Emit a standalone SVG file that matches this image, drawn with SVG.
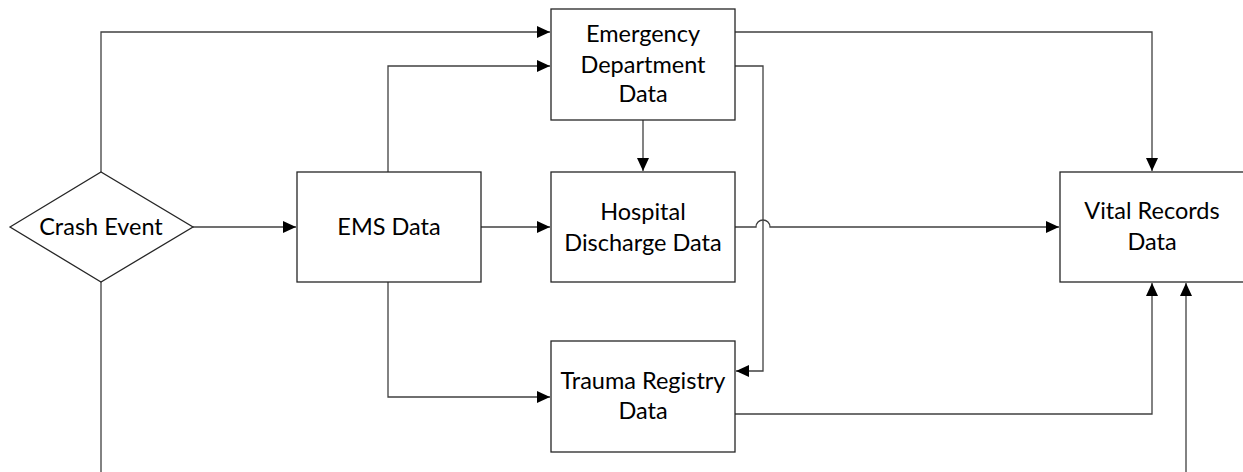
<svg xmlns="http://www.w3.org/2000/svg" width="1243" height="472" viewBox="0 0 1243 472">
<style>
.box{fill:#fff;stroke:#262626;stroke-width:1.3}
.lbl{font-family:Lato,"Open Sans",sans-serif;font-size:23.5px;fill:#000;text-anchor:middle}
.c{fill:none;stroke:#404040;stroke-width:1.3}
</style>
<defs>
<marker id="ah" viewBox="0 0 13 12" refX="13" refY="6" markerWidth="13" markerHeight="12" markerUnits="userSpaceOnUse" orient="auto">
<path d="M0,0 L13,6 L0,12 z" fill="#000"/>
</marker>
</defs>
<rect width="1243" height="472" fill="#fff"/>
<g id="connectors">
<path class="c" d="M101,172 V32 H550" marker-end="url(#ah)"/>
<path class="c" d="M388,172 V66 H550" marker-end="url(#ah)"/>
<path class="c" d="M193,227 H296" marker-end="url(#ah)"/>
<path class="c" d="M481,227 H550" marker-end="url(#ah)"/>
<path class="c" d="M643,120 V171" marker-end="url(#ah)"/>
<path class="c" d="M735,32 H1152 V171" marker-end="url(#ah)"/>
<path class="c" d="M735,66 H763 V371 H736" marker-end="url(#ah)"/>
<path class="c" d="M735,227 H756 A7,7 0 0 1 770,227 H1059" marker-end="url(#ah)"/>
<path class="c" d="M388,282 V397 H550" marker-end="url(#ah)"/>
<path class="c" d="M735,414 H1152 V283" marker-end="url(#ah)"/>
<path class="c" d="M101,282 V490 H1186 V283" marker-end="url(#ah)"/>
</g>
<g id="crash">
<polygon class="box" points="10,227 101,172 193,227 101,282"/>
<text class="lbl" x="101" y="235">Crash Event</text>
</g>
<g id="ems">
<rect class="box" x="297" y="172" width="184" height="110"/>
<text class="lbl" x="389" y="235">EMS Data</text>
</g>
<g id="ed">
<rect class="box" x="551" y="9" width="184" height="111"/>
<text class="lbl" x="643" y="42">Emergency</text>
<text class="lbl" x="643" y="73">Department</text>
<text class="lbl" x="643" y="102">Data</text>
</g>
<g id="hospital">
<rect class="box" x="551" y="172" width="184" height="110"/>
<text class="lbl" x="643" y="220">Hospital</text>
<text class="lbl" x="643" y="251">Discharge Data</text>
</g>
<g id="trauma">
<rect class="box" x="551" y="341" width="184" height="111"/>
<text class="lbl" x="643" y="389">Trauma Registry</text>
<text class="lbl" x="643" y="419">Data</text>
</g>
<g id="vital">
<rect class="box" x="1060" y="172" width="184" height="110"/>
<text class="lbl" x="1152" y="219">Vital Records</text>
<text class="lbl" x="1152" y="250">Data</text>
</g>
</svg>
